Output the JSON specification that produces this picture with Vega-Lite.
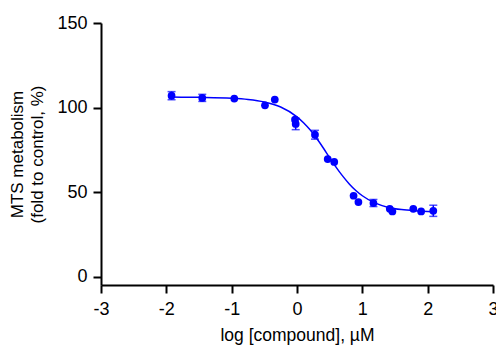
{
  "$schema": "https://vega.github.io/schema/vega-lite/v6.json",
  "autosize": {"type": "none"},
  "width": 392,
  "height": 262,
  "padding": {"left": 101, "top": 23, "right": 3, "bottom": 62},
  "background": "white",
  "config": {
    "view": {"stroke": null},
    "axis": {
      "grid": false,
      "labelFlush": false,
      "domainColor": "black",
      "domainWidth": 2,
      "tickColor": "black",
      "tickWidth": 2,
      "tickSize": 8,
      "labelFont": "Liberation Sans",
      "labelFontSize": 18,
      "labelColor": "black",
      "titleFont": "Liberation Sans",
      "titleFontSize": 17,
      "titleFontWeight": "normal",
      "titleColor": "black"
    }
  },
  "datasets": {
    "points": [
      {"x": -1.92, "y": 107.0, "lo": 104.6, "hi": 109.4},
      {"x": -1.45, "y": 105.7, "lo": 103.6, "hi": 107.8},
      {"x": -0.96, "y": 105.3, "lo": null, "hi": null},
      {"x": -0.49, "y": 101.3, "lo": null, "hi": null},
      {"x": -0.34, "y": 104.7, "lo": null, "hi": null},
      {"x": -0.03, "y": 92.8, "lo": null, "hi": null},
      {"x": -0.02, "y": 90.3, "lo": 86.9, "hi": 93.7},
      {"x": 0.275, "y": 83.9, "lo": 81.3, "hi": 86.5},
      {"x": 0.47, "y": 69.5, "lo": null, "hi": null},
      {"x": 0.57, "y": 67.8, "lo": null, "hi": null},
      {"x": 0.866, "y": 47.8, "lo": null, "hi": null},
      {"x": 0.94, "y": 44.1, "lo": null, "hi": null},
      {"x": 1.17, "y": 43.5, "lo": 41.4, "hi": 45.6},
      {"x": 1.42, "y": 40.1, "lo": null, "hi": null},
      {"x": 1.46, "y": 38.5, "lo": null, "hi": null},
      {"x": 1.78, "y": 40.1, "lo": null, "hi": null},
      {"x": 1.9, "y": 38.5, "lo": null, "hi": null},
      {"x": 2.086, "y": 38.9, "lo": 35.6, "hi": 42.2}
    ],
    "curve": [
      {"x": -1.92, "y": 106.2},
      {"x": -1.5, "y": 106.0},
      {"x": -1.0, "y": 105.5},
      {"x": -0.75, "y": 104.8},
      {"x": -0.5, "y": 103.3},
      {"x": -0.25, "y": 100.3},
      {"x": 0.0, "y": 94.5},
      {"x": 0.1, "y": 91.0},
      {"x": 0.2, "y": 86.8},
      {"x": 0.3, "y": 81.8},
      {"x": 0.4, "y": 76.2},
      {"x": 0.5, "y": 70.3},
      {"x": 0.6, "y": 64.6},
      {"x": 0.7, "y": 59.4},
      {"x": 0.8, "y": 54.8},
      {"x": 0.9, "y": 50.9},
      {"x": 1.0, "y": 47.8},
      {"x": 1.2, "y": 43.4},
      {"x": 1.4, "y": 40.9},
      {"x": 1.6, "y": 39.6},
      {"x": 1.8, "y": 38.9},
      {"x": 2.09, "y": 38.4}
    ]
  },
  "layer": [
    {
      "data": {"name": "curve"},
      "mark": {"type": "line", "color": "#0000FF", "strokeWidth": 1.5, "interpolate": "monotone"},
      "encoding": {
        "x": {
          "field": "x", "type": "quantitative",
          "scale": {"domain": [-3, 3], "nice": false, "zero": false},
          "axis": {"values": [-3, -2, -1, 0, 1, 2, 3], "labelExpr": "'' + datum.value", "labelPadding": 7, "labelOverlap": false, "title": "log [compound], µM", "titlePadding": 8, "titleFontSize": 17.5}
        },
        "y": {
          "field": "y", "type": "quantitative",
          "scale": {"domain": [-5, 150], "nice": false, "zero": false},
          "axis": {"values": [0, 50, 100, 150], "labelPadding": 6, "labelOverlap": false, "title": ["MTS metabolism", "(fold to control, %)"], "titlePadding": 10, "titleLineHeight": 20}
        }
      }
    },
    {
      "data": {"name": "points"},
      "transform": [{"filter": "datum.lo != null"}],
      "mark": {"type": "rule", "color": "#0000FF", "strokeWidth": 1.5},
      "encoding": {
        "x": {"field": "x", "type": "quantitative"},
        "y": {"field": "lo", "type": "quantitative"},
        "y2": {"field": "hi"}
      }
    },
    {
      "data": {"name": "points"},
      "transform": [{"filter": "datum.lo != null"}],
      "mark": {"type": "tick", "color": "#0000FF", "thickness": 1.5, "size": 8, "orient": "horizontal"},
      "encoding": {
        "x": {"field": "x", "type": "quantitative"},
        "y": {"field": "lo", "type": "quantitative"}
      }
    },
    {
      "data": {"name": "points"},
      "transform": [{"filter": "datum.lo != null"}],
      "mark": {"type": "tick", "color": "#0000FF", "thickness": 1.5, "size": 8, "orient": "horizontal"},
      "encoding": {
        "x": {"field": "x", "type": "quantitative"},
        "y": {"field": "hi", "type": "quantitative"}
      }
    },
    {
      "data": {"name": "points"},
      "mark": {"type": "circle", "color": "#0000FF", "opacity": 1, "size": 60},
      "encoding": {
        "x": {"field": "x", "type": "quantitative"},
        "y": {"field": "y", "type": "quantitative"}
      }
    }
  ]
}
